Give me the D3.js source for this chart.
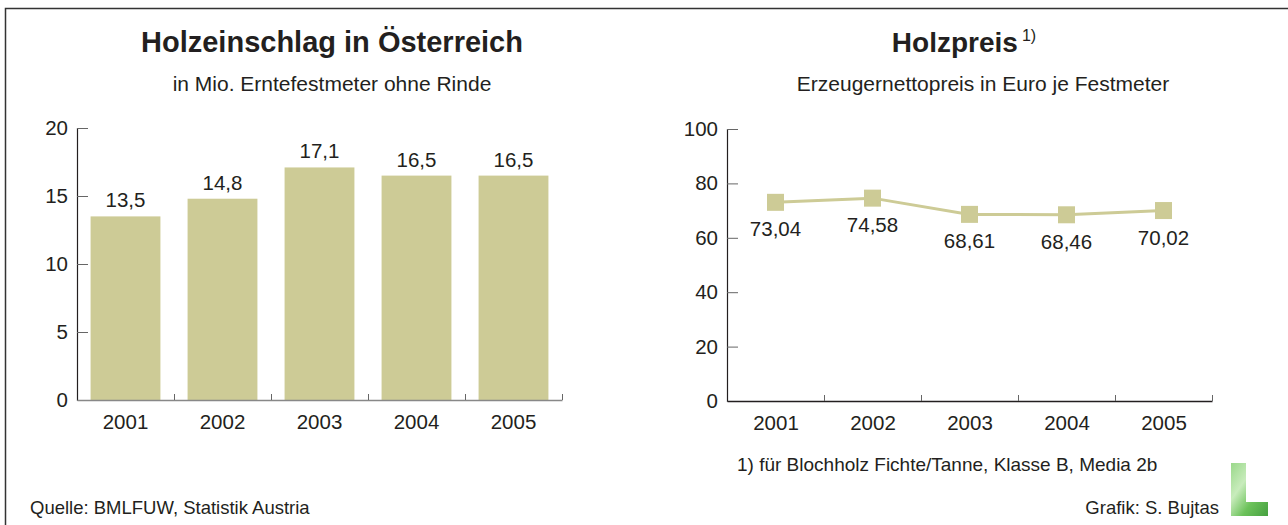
<!DOCTYPE html>
<html>
<head>
<meta charset="utf-8">
<script src="https://cdn.jsdelivr.net/npm/d3@7"></script>
<style>
  body { margin: 0; background: #fff; }
  svg { display: block; font-family: "Liberation Sans", Arial, sans-serif; }
  .tick text { font-size: 20.5px; fill: #231f20; }
</style>
</head>
<body>
<div class="chart"></div>
<script>
var years = ['2001', '2002', '2003', '2004', '2005'];
var harvest = [13.5, 14.8, 17.1, 16.5, 16.5];
var price = [73.04, 74.58, 68.61, 68.46, 70.02];
var harvestTicks = [0, 5, 10, 15, 20];
var priceTicks = [0, 20, 40, 60, 80, 100];

var W = 1288, H = 525;
var ink = '#231f20';
var olive = '#cdcb96';
var fmt = function(v, n) { return v.toFixed(n).replace('.', ','); };

var svg = d3.select('.chart')
  .append('svg')
    .attr('width', W)
    .attr('height', H);

// frame
svg.append('path')
  .attr('d', 'M5.5,' + H + 'V8.5H' + W)
  .attr('fill', 'none')
  .attr('stroke', '#333')
  .attr('stroke-width', 1.5);

// ---- left: Holzeinschlag ----
var x1 = d3.scaleBand().domain(years).range([77, 562]).paddingInner(0.28).paddingOuter(0.14);
var y1 = d3.scaleLinear().domain([0, 20]).range([400, 128]);

svg.append('text')
  .attr('x', 332).attr('y', 52)
  .attr('text-anchor', 'middle')
  .style('font-size', '29px').style('font-weight', 'bold').attr('fill', ink)
  .text('Holzeinschlag in Österreich');
svg.append('text')
  .attr('x', 332).attr('y', 91)
  .attr('text-anchor', 'middle')
  .style('font-size', '21px').attr('fill', ink)
  .text('in Mio. Erntefestmeter ohne Rinde');

var g1 = svg.append('g');
g1.selectAll('.bar')
  .data(harvest)
  .enter()
  .append('rect')
    .attr('class', 'bar')
    .attr('x', (d, i) => x1(years[i]))
    .attr('y', d => y1(d))
    .attr('width', x1.bandwidth())
    .attr('height', d => y1(0) - y1(d))
    .attr('fill', olive);

g1.selectAll('.val')
  .data(harvest)
  .enter()
  .append('text')
    .attr('x', (d, i) => x1(years[i]) + x1.bandwidth() / 2)
    .attr('y', d => y1(d) - 9)
    .attr('text-anchor', 'middle')
    .style('font-size', '20.5px').attr('fill', ink)
    .text(d => fmt(d, 1));

var yAxis1 = d3.axisRight(y1).tickValues(harvestTicks).tickSize(11);
g1.append('g')
  .attr('transform', 'translate(77,0)')
  .call(yAxis1)
  .call(g => g.select('.domain').attr('stroke', ink).attr('stroke-width', 1.2))
  .call(g => g.selectAll('.tick line').attr('stroke', '#666'))
  .call(g => g.selectAll('.tick text').attr('text-anchor', 'end').attr('x', -9));

var xAxis1 = d3.axisBottom(x1).tickSize(0).tickPadding(11);
g1.append('g')
  .attr('transform', 'translate(0,400)')
  .call(xAxis1)
  .call(g => g.select('.domain').attr('stroke', '#888').attr('stroke-width', 1.5))
  .call(g => g.selectAll('.tick text').attr('dy', '0.9em'));
// category separators
g1.selectAll('.sep')
  .data(years)
  .enter()
  .append('line')
    .attr('x1', d => x1(d) + x1.bandwidth() + x1.step() * x1.paddingInner() / 2 + 0.5)
    .attr('x2', d => x1(d) + x1.bandwidth() + x1.step() * x1.paddingInner() / 2 + 0.5)
    .attr('y1', 400).attr('y2', 394)
    .attr('stroke', '#666');

// ---- right: Holzpreis ----
var x2 = d3.scalePoint().domain(years).range([727, 1212]).padding(0.5);
var y2 = d3.scaleLinear().domain([0, 100]).range([401, 129]);

var title2 = svg.append('text')
  .attr('x', 964).attr('y', 52)
  .attr('text-anchor', 'middle')
  .attr('fill', ink);
title2.append('tspan').style('font-size', '28px').style('font-weight', 'bold').text('Holzpreis');
title2.append('tspan').style('font-size', '16px').attr('dx', 4).attr('dy', -11).text('1)');
svg.append('text')
  .attr('x', 983).attr('y', 91)
  .attr('text-anchor', 'middle')
  .style('font-size', '21px').attr('fill', ink)
  .text('Erzeugernettopreis in Euro je Festmeter');

var g2 = svg.append('g');
var yAxis2 = d3.axisRight(y2).tickValues(priceTicks).tickSize(11);
g2.append('g')
  .attr('transform', 'translate(727,0)')
  .call(yAxis2)
  .call(g => g.select('.domain').attr('stroke', ink).attr('stroke-width', 1.2))
  .call(g => g.selectAll('.tick line').attr('stroke', '#666'))
  .call(g => g.selectAll('.tick text').attr('text-anchor', 'end').attr('x', -9));

var xAxis2 = d3.axisBottom(x2).tickSize(0).tickPadding(11);
g2.append('g')
  .attr('transform', 'translate(0,401)')
  .call(xAxis2)
  .call(g => g.select('.domain').attr('stroke', ink).attr('stroke-width', 1.5))
  .call(g => g.selectAll('.tick text').attr('dy', '0.9em'));
g2.selectAll('.sep')
  .data(years)
  .enter()
  .append('line')
    .attr('x1', d => x2(d) + x2.step() / 2 + 0.5)
    .attr('x2', d => x2(d) + x2.step() / 2 + 0.5)
    .attr('y1', 401).attr('y2', 395)
    .attr('stroke', '#666');

var line = d3.line()
  .x((d, i) => x2(years[i]))
  .y(d => y2(d));
g2.append('path')
  .datum(price)
  .attr('d', line)
  .attr('fill', 'none')
  .attr('stroke', olive)
  .attr('stroke-width', 3);

g2.selectAll('.marker')
  .data(price)
  .enter()
  .append('rect')
    .attr('x', (d, i) => x2(years[i]) - 8.5)
    .attr('y', d => y2(d) - 8.5)
    .attr('width', 17)
    .attr('height', 17)
    .attr('fill', olive);

g2.selectAll('.val')
  .data(price)
  .enter()
  .append('text')
    .attr('x', (d, i) => x2(years[i]))
    .attr('y', d => y2(d) + 34)
    .attr('text-anchor', 'middle')
    .style('font-size', '20.5px').attr('fill', ink)
    .text(d => fmt(d, 2));

// ---- notes ----
svg.append('text')
  .attr('x', 737).attr('y', 471)
  .style('font-size', '19px').attr('fill', ink)
  .text('1) für Blochholz Fichte/Tanne, Klasse B, Media 2b');
svg.append('text')
  .attr('x', 30).attr('y', 514)
  .style('font-size', '18.5px').attr('fill', ink)
  .text('Quelle: BMLFUW, Statistik Austria');
svg.append('text')
  .attr('x', 1219).attr('y', 514)
  .attr('text-anchor', 'end')
  .style('font-size', '18.5px').attr('fill', ink)
  .text('Grafik: S. Bujtas');

// logo
var grad = svg.append('defs').append('linearGradient')
  .attr('id', 'leaf').attr('x1', 0).attr('y1', 0).attr('x2', 1).attr('y2', 1);
grad.append('stop').attr('offset', '0%').attr('stop-color', '#9ad88a');
grad.append('stop').attr('offset', '35%').attr('stop-color', '#c8ecbc');
grad.append('stop').attr('offset', '65%').attr('stop-color', '#6cc25a');
grad.append('stop').attr('offset', '100%').attr('stop-color', '#46a040');
svg.append('path')
  .attr('d', 'M1231,463H1246V502H1268V516H1231Z')
  .attr('fill', 'url(#leaf)');
</script>
</body>
</html>
